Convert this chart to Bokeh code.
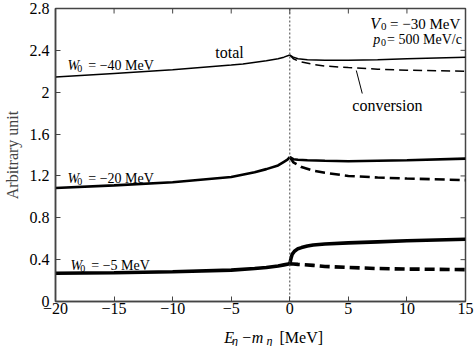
from bokeh.plotting import figure
from bokeh.layouts import column
from bokeh.models import Range1d, FixedTicker, Label, Span
from bokeh.core.properties import value
from bokeh.embed import file_html
from bokeh.resources import INLINE

# ---- data ----
x_ticks = [-20, -15, -10, -5, 0, 5, 10, 15]
x_tick_labels = ["\u221220", "\u221215", "\u221210", "\u22125", "0", "5", "10", "15"]
y_ticks = [0, 0.4, 0.8, 1.2, 1.6, 2.0, 2.4, 2.8]
y_tick_labels = ["0", "0.4", "0.8", "1.2", "1.6", "2", "2.4", "2.8"]

# W0 = -40 MeV
x_left_40 = [-20, -15, -10, -5, -4, -2, -1, -0.5, 0]
y_left_40 = [2.145, 2.18, 2.215, 2.26, 2.27, 2.30, 2.32, 2.335, 2.355]
x_tot_40 = [0, 0.3, 0.7, 1.5, 3, 5, 7.5, 10, 15]
y_tot_40 = [2.355, 2.335, 2.32, 2.31, 2.305, 2.305, 2.31, 2.32, 2.335]
x_conv_40 = [0, 0.3, 0.7, 1, 2, 3, 5, 7.5, 10, 15]
y_conv_40 = [2.355, 2.32, 2.30, 2.29, 2.265, 2.25, 2.235, 2.22, 2.21, 2.20]

# W0 = -20 MeV
x_left_20 = [-20, -15, -10, -5, -3, -2, -1, -0.5, -0.2, 0]
y_left_20 = [1.085, 1.11, 1.14, 1.19, 1.235, 1.265, 1.30, 1.335, 1.355, 1.38]
x_tot_20 = [0, 0.3, 0.7, 1.5, 3, 5, 7.5, 10, 15]
y_tot_20 = [1.38, 1.36, 1.355, 1.35, 1.345, 1.34, 1.345, 1.35, 1.365]
x_conv_20 = [0, 0.3, 0.7, 1, 2, 3, 5, 7.5, 10, 15]
y_conv_20 = [1.38, 1.33, 1.305, 1.285, 1.25, 1.23, 1.20, 1.185, 1.175, 1.16]

# W0 = -5 MeV
x_left_5 = [-20, -15, -10, -5, -3, -2, -1, -0.5, 0]
y_left_5 = [0.27, 0.275, 0.285, 0.30, 0.315, 0.325, 0.34, 0.35, 0.36]
x_tot_5 = [0, 0.1, 0.2, 0.4, 0.7, 1, 1.5, 2, 3, 5, 7.5, 10, 15]
y_tot_5 = [0.36, 0.41, 0.45, 0.48, 0.505, 0.515, 0.53, 0.54, 0.55, 0.56, 0.57, 0.58, 0.595]
x_conv_5 = [0, 0.3, 0.7, 1, 2, 3, 5, 7.5, 10, 15]
y_conv_5 = [0.36, 0.358, 0.355, 0.353, 0.345, 0.335, 0.325, 0.315, 0.31, 0.305]

FONT = "Liberation Serif"
AX = "#444444"
X0, X1, Y0, Y1 = -20, 15, 0, 2.8

# main figure: page x 0..474, page y 0..320 ; frame x 52..465, y 8..301
MAIN_H = 320
FRAME_L, FRAME_R, FRAME_T, FRAME_B = 52, 465, 8, 301
FRAME_W, FRAME_H = FRAME_R - FRAME_L, FRAME_B - FRAME_T
p = figure(width=474, height=MAIN_H, x_range=Range1d(X0, X1), y_range=Range1d(Y0, Y1),
           output_backend="svg", toolbar_location=None,
           min_border_left=FRAME_L, min_border_right=474 - FRAME_R, min_border_top=FRAME_T,
           min_border_bottom=MAIN_H - FRAME_B)
p.xgrid.visible = False
p.ygrid.visible = False
p.outline_line_color = AX
p.outline_line_width = 1.5
p.background_fill_color = "white"
p.border_fill_color = "white"


def style_axis(ax, ticks, labels):
    ax.ticker = FixedTicker(ticks=ticks)
    ax.major_label_overrides = dict(zip(ticks, labels))
    ax.major_tick_in = 5
    ax.major_tick_out = 0
    ax.minor_tick_in = 0
    ax.minor_tick_out = 0
    ax.axis_line_color = AX
    ax.axis_line_width = 1.5
    ax.major_tick_line_color = AX
    ax.major_tick_line_width = 1
    ax.major_label_text_font = FONT
    ax.major_label_text_color = "black"
    ax.major_label_text_font_size = "16px"


style_axis(p.xaxis[0], x_ticks, x_tick_labels)
p.xaxis[0].major_label_standoff = 1
style_axis(p.yaxis[0], y_ticks, y_tick_labels)
p.yaxis[0].major_label_standoff = 6
p.yaxis[0].axis_label = "Arbitrary unit"
p.yaxis[0].axis_label_text_font = FONT
p.yaxis[0].axis_label_text_font_style = "normal"
p.yaxis[0].axis_label_text_font_size = "16px"
p.yaxis[0].axis_label_standoff = 6

# inward ticks on top and right edges (5 px long through the data scales)
tick_dy = 5 * (Y1 - Y0) / FRAME_H
tick_dx = 5 * (X1 - X0) / FRAME_W
p.segment(x0=x_ticks, y0=[Y1] * len(x_ticks), x1=x_ticks, y1=[Y1 - tick_dy] * len(x_ticks),
          line_color=AX, line_width=1)
p.segment(x0=[X1] * len(y_ticks), y0=y_ticks, x1=[X1 - tick_dx] * len(y_ticks), y1=y_ticks,
          line_color=AX, line_width=1)

# threshold line
p.add_layout(Span(location=0, dimension="height", line_color=AX, line_width=1, line_dash="2 2"))

# curves
for xl, yl, xt, yt, xc, yc, lw, dash in [
    (x_left_40, y_left_40, x_tot_40, y_tot_40, x_conv_40, y_conv_40, 1.5, "9 5"),
    (x_left_20, y_left_20, x_tot_20, y_tot_20, x_conv_20, y_conv_20, 2.6, "10 5"),
    (x_left_5, y_left_5, x_tot_5, y_tot_5, x_conv_5, y_conv_5, 3.6, "10 5"),
]:
    p.line(xl, yl, line_color="black", line_width=lw)
    p.line(xt, yt, line_color="black", line_width=lw)
    p.line(xc, yc, line_color="black", line_width=lw, line_dash=dash)


# text helpers (page pixel layout -> data coordinates of the main frame)
def dx(px):
    return X0 + (px - FRAME_L) * (X1 - X0) / FRAME_W


def dy(py):
    return (FRAME_B - py) * (Y1 - Y0) / FRAME_H


def txt(px, py, s, size, style="normal"):
    p.add_layout(Label(x=dx(px), y=dy(py), text=s, text_font=FONT, text_font_size=f"{size}px",
                       text_font_style=style, text_color="black", text_baseline="alphabetic",
                       text_align="left"))


# W0 labels
for base_x, base_y, rest in [(64, 65, "= \u221240 MeV"), (64, 178, "= \u221220 MeV"), (67, 265, "= \u22125 MeV")]:
    txt(base_x, base_y, "W", 14, "italic")
    txt(base_x + 10, base_y + 3, "0", 10)
    txt(base_x + 21, base_y, rest, 14)

# V0, p0
txt(369, 23, "V", 16, "italic")
txt(380, 26, "0", 11)
txt(389, 23, "= \u221230 MeV", 15)
txt(372, 39, "p", 14, "italic")
txt(380, 42, "0", 10)
txt(386, 39, "= 500 MeV/c", 14)

# total / conversion
txt(213, 52, "total", 16)
txt(351, 105, "conversion", 16)
p.segment(x0=[dx(355)], y0=[dy(70)], x1=[dx(361)], y1=[dy(93)], line_color="black", line_width=1)

# x axis title strip: page x 0..474, page y 320..346 (coordinates are page pixels)
p2 = figure(width=474, height=346 - MAIN_H, x_range=Range1d(0, 474), y_range=Range1d(346, MAIN_H),
            output_backend="svg", toolbar_location=None, x_axis_location=None, y_axis_location=None,
            min_border=0)
p2.xgrid.visible = False
p2.ygrid.visible = False
p2.outline_line_color = None
p2.background_fill_color = "white"
p2.border_fill_color = "white"


def t2(px, py, s, size, style="normal"):
    p2.text(x=[px], y=[py], text=[s], text_font=value(FONT), text_font_size=value(f"{size}px"),
            text_font_style=value(style), text_color="black", text_baseline="alphabetic",
            text_align="left")


BL = 337
t2(195, BL, "E", 16, "italic")
t2(204, BL + 3, "\u03b7", 12, "italic")
t2(216, BL, "\u2212", 16)
t2(227, BL, "m", 16, "italic")
t2(244, BL + 3, "\u03b7", 12, "italic")
t2(259, BL, "[MeV]", 16)

layout = column(p, p2, spacing=0)
open("out.html", "w").write(file_html(layout, INLINE))
